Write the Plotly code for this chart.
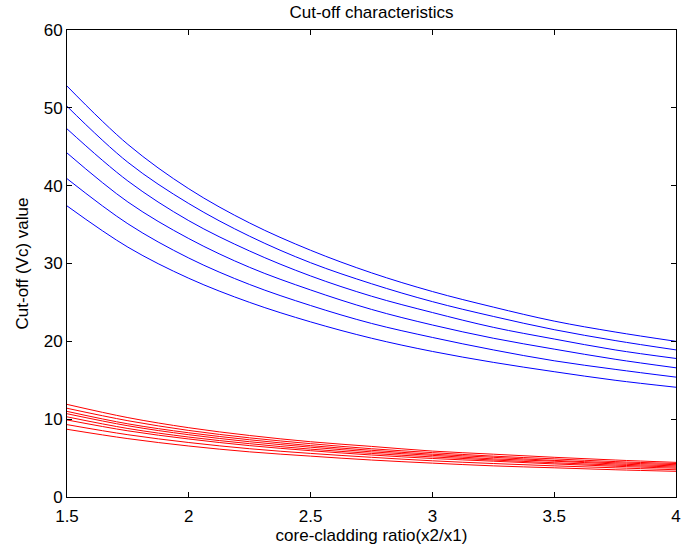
import plotly.graph_objects as go

# core-cladding ratio samples
ratio = [1.5, 1.75, 2.0, 2.25, 2.5, 2.75, 3.0, 3.25, 3.5, 3.75, 4.0]

# upper family of cut-off curves
blue_series = [
    [52.8, 45.3, 39.6, 35.2, 31.7, 28.8, 26.4, 24.4, 22.6, 21.2, 20.0],
    [50.2, 43.0, 37.7, 33.5, 30.1, 27.4, 25.1, 23.2, 21.5, 20.1, 18.9],
    [47.3, 40.6, 35.5, 31.6, 28.4, 25.8, 23.7, 21.8, 20.3, 18.9, 17.8],
    [44.2, 37.9, 33.2, 29.5, 26.6, 24.1, 22.1, 20.4, 19.0, 17.7, 16.6],
    [40.9, 35.1, 30.7, 27.3, 24.6, 22.3, 20.5, 18.9, 17.5, 16.4, 15.4],
    [37.4, 32.1, 28.1, 25.0, 22.5, 20.4, 18.7, 17.3, 16.1, 15.0, 14.1],
]

# lower family of cut-off curves
red_series = [
    [11.9, 10.2, 8.9, 7.9, 7.1, 6.5, 5.9, 5.5, 5.1, 4.75, 4.45],
    [11.4, 9.8, 8.55, 7.6, 6.85, 6.2, 5.7, 5.25, 4.9, 4.55, 4.3],
    [11.0, 9.4, 8.25, 7.35, 6.6, 6.0, 5.5, 5.1, 4.7, 4.4, 4.15],
    [10.7, 9.15, 8.0, 7.1, 6.4, 5.8, 5.35, 4.9, 4.6, 4.25, 4.0],
    [10.3, 8.8, 7.7, 6.85, 6.15, 5.6, 5.15, 4.75, 4.4, 4.1, 3.85],
    [9.9, 8.5, 7.45, 6.6, 5.95, 5.4, 4.95, 4.6, 4.25, 3.95, 3.7],
    [9.3, 8.0, 7.0, 6.2, 5.6, 5.1, 4.65, 4.3, 4.0, 3.75, 3.5],
    [8.7, 7.5, 6.55, 5.8, 5.25, 4.75, 4.35, 4.0, 3.75, 3.5, 3.3],
]

x_ticks = [1.5, 2, 2.5, 3, 3.5, 4]
x_tick_text = ["1.5", "2", "2.5", "3", "3.5", "4"]
y_ticks = [0, 10, 20, 30, 40, 50, 60]

fig = go.Figure()
for ys in blue_series:
    fig.add_trace(go.Scatter(x=ratio, y=ys, mode="lines",
                             line=dict(color="rgb(0,0,255)", width=1, shape="spline"),
                             showlegend=False, hoverinfo="skip"))
for ys in red_series:
    fig.add_trace(go.Scatter(x=ratio, y=ys, mode="lines",
                             line=dict(color="rgb(255,0,0)", width=1, shape="spline"),
                             showlegend=False, hoverinfo="skip"))

font = dict(family="Liberation Sans, Arial, sans-serif", size=17, color="black")

axis_common = dict(showline=True, linecolor="black", linewidth=1, mirror="ticks",
                   ticks="inside", ticklen=5, tickcolor="black", showgrid=False,
                   zeroline=False, tickfont=font)

fig.update_layout(
    width=697, height=552,
    margin=dict(l=67, r=21, t=30, b=55),
    paper_bgcolor="white", plot_bgcolor="white",
    font=font,
    title=dict(text="Cut-off characteristics", x=0.533, xanchor="center",
               y=0.978, yanchor="middle", font=font),
    xaxis=dict(range=[1.5, 4], tickvals=x_ticks, ticktext=x_tick_text,
               ticklabelstandoff=4,
               title=dict(text="core-cladding ratio(x2/x1)", standoff=3, font=font),
               **axis_common),
    yaxis=dict(range=[0, 60], tickvals=y_ticks,
               title=dict(text="Cut-off (Vc) value", standoff=10, font=font),
               **axis_common),
)

fig.write_html("out.html")
